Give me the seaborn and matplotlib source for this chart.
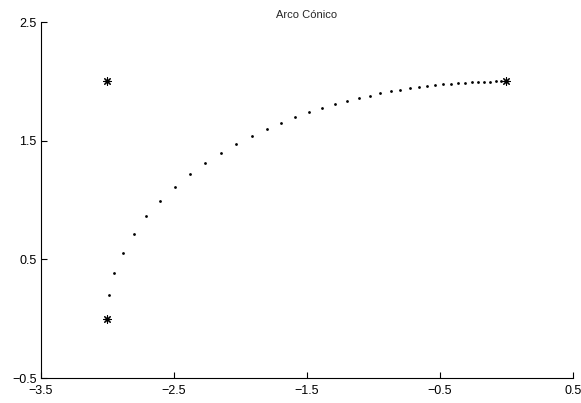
import numpy as np
import pandas as pd
import matplotlib
matplotlib.use('Agg')
import matplotlib.pyplot as plt
import seaborn as sns

# Control points (stars)
ctrl_x = [-3.0, -3.0, 0.0]
ctrl_y = [0.0, 2.0, 2.0]

# Arc points
arc_x = [-3.0, -2.987, -2.947, -2.881, -2.801, -2.706, -2.603, -2.492, -2.377, -2.262,
         -2.144, -2.029, -1.914, -1.802, -1.691, -1.586, -1.483, -1.385, -1.290, -1.197,
         -1.109, -1.026, -0.947, -0.868, -0.796, -0.726, -0.658, -0.593, -0.533, -0.473,
         -0.415, -0.360, -0.310, -0.259, -0.212, -0.167, -0.122, -0.077, -0.037, 0.0]
arc_y = [0.0, 0.198, 0.384, 0.557, 0.718, 0.864, 0.993, 1.114, 1.221, 1.314,
         1.398, 1.474, 1.541, 1.598, 1.653, 1.699, 1.741, 1.775, 1.809, 1.834,
         1.859, 1.881, 1.901, 1.918, 1.932, 1.944, 1.957, 1.963, 1.971, 1.977,
         1.982, 1.988, 1.991, 1.994, 1.997, 1.998, 1.998, 2.0, 2.0, 2.0]

xticks = [-3.5, -2.5, -1.5, -0.5, 0.5]
yticks = [-0.5, 0.5, 1.5, 2.5]

sns.set_style('ticks')
plt.rcParams['font.family'] = ['Liberation Sans', 'DejaVu Sans']
plt.rcParams['axes.unicode_minus'] = True

fig = plt.figure(figsize=(5.81, 4.03), dpi=100)
ax = fig.add_axes([0.070, 0.062, 0.916, 0.883])

arc_df = pd.DataFrame({'x': arc_x, 'y': arc_y})
ctrl_df = pd.DataFrame({'x': ctrl_x, 'y': ctrl_y})

sns.scatterplot(data=arc_df, x='x', y='y', ax=ax, color='black', marker='o',
                s=4, linewidth=0)
sns.scatterplot(data=ctrl_df, x='x', y='y', ax=ax, color='black', marker=(8, 2, 0),
                s=30, linewidth=0.8)

ax.set_xlim(-3.5, 0.5)
ax.set_ylim(-0.5, 2.5)
ax.set_xticks(xticks)
ax.set_yticks(yticks)
ax.set_xticklabels(['\u22123.5', '\u22122.5', '\u22121.5', '\u22120.5', '0.5'])
ax.set_yticklabels(['\u22120.5', '0.5', '1.5', '2.5'])
ax.set_xlabel('')
ax.set_ylabel('')
ax.tick_params(direction='in', length=4, width=0.8, labelsize=9, colors='black')
ax.tick_params(axis='x', pad=5)
ax.tick_params(axis='y', pad=3)

for side in ['top', 'right']:
    ax.spines[side].set_visible(False)
for side in ['left', 'bottom']:
    ax.spines[side].set_color('black')
    ax.spines[side].set_linewidth(0.8)

ax.set_title('Arco Cónico', fontsize=8, pad=3)

fig.savefig('out.png', dpi=100)
